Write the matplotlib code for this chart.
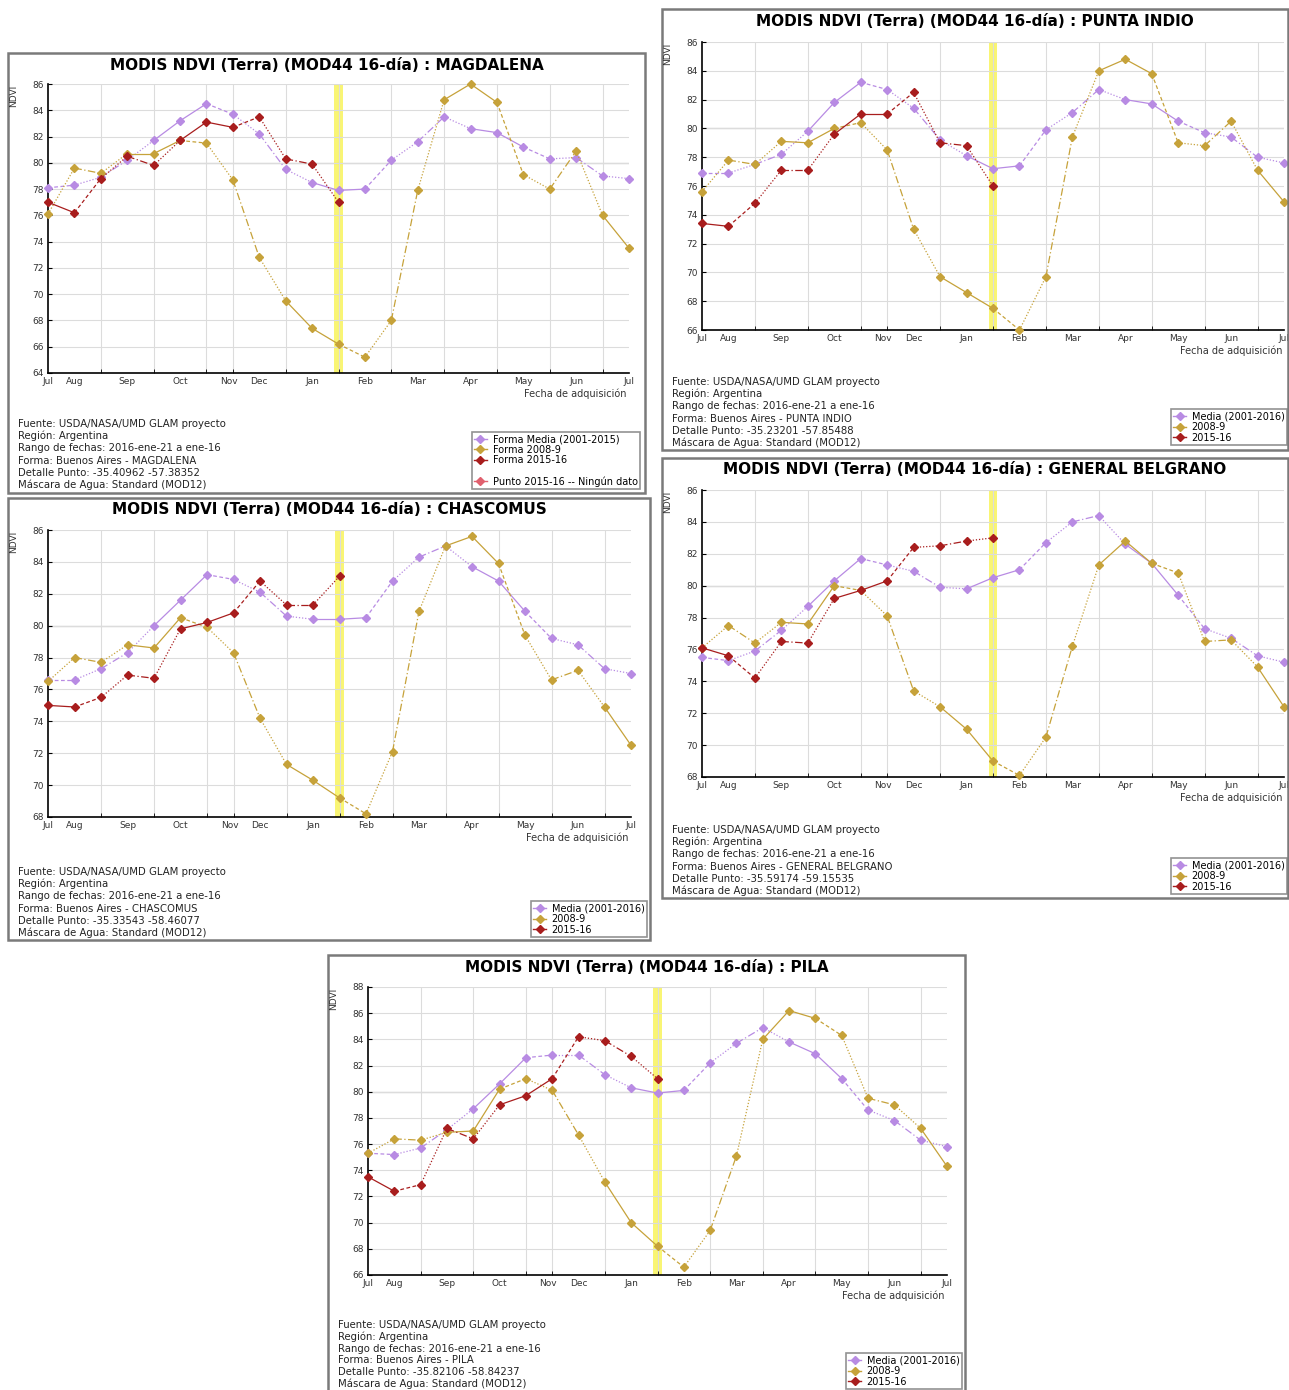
import matplotlib
matplotlib.use("Agg")
import matplotlib.pyplot as plt
from matplotlib.lines import Line2D
from matplotlib.patches import Rectangle

W, H = 1289, 1390

# 16-day composites, Jul -> Jul (23 per season)
months = ["Jul", "Aug", "Sep", "Oct", "Nov", "Dec", "Jan", "Feb", "Mar", "Apr", "May", "Jun", "Jul"]
month_pos = [0, 1, 3, 5, 6.85, 8, 10, 12, 14, 16, 18, 20, 22]
current_idx = 11

magdalena_media = [78.1, 78.3, 78.9, 80.2, 81.7, 83.2, 84.5, 83.7, 82.2, 79.5, 78.5, 77.9,
                   78.0, 80.2, 81.6, 83.5, 82.6, 82.3, 81.2, 80.3, 80.4, 79.0, 78.8]
magdalena_2008 = [76.1, 79.6, 79.2, 80.7, 80.7, 81.7, 81.5, 78.7, 72.8, 69.5, 67.4, 66.2,
                  65.2, 68.0, 77.9, 84.8, 86.0, 84.6, 79.1, 78.0, 80.9, 76.0, 73.5]
magdalena_2015 = [77.0, 76.2, 78.8, 80.5, 79.8, 81.7, 83.1, 82.7, 83.5, 80.3, 79.9, 77.0]

punta_media = [76.9, 76.9, 77.5, 78.2, 79.8, 81.8, 83.2, 82.7, 81.4, 79.2, 78.1, 77.2,
               77.4, 79.9, 81.1, 82.7, 82.0, 81.7, 80.5, 79.7, 79.4, 78.0, 77.6]
punta_2008 = [75.6, 77.8, 77.5, 79.1, 79.0, 80.0, 80.4, 78.5, 73.0, 69.7, 68.6, 67.5,
              66.0, 69.7, 79.4, 84.0, 84.8, 83.8, 79.0, 78.8, 80.5, 77.1, 74.9]
punta_2015 = [73.4, 73.2, 74.8, 77.1, 77.1, 79.6, 81.0, 81.0, 82.5, 79.0, 78.8, 76.0]

chascomus_media = [76.6, 76.6, 77.3, 78.3, 80.0, 81.6, 83.2, 82.9, 82.1, 80.6, 80.4, 80.4,
                   80.5, 82.8, 84.3, 85.0, 83.7, 82.8, 80.9, 79.2, 78.8, 77.3, 77.0]
chascomus_2008 = [76.5, 78.0, 77.7, 78.8, 78.6, 80.5, 79.9, 78.3, 74.2, 71.3, 70.3, 69.2,
                  68.2, 72.1, 80.9, 85.0, 85.6, 83.9, 79.4, 76.6, 77.2, 74.9, 72.5]
chascomus_2015 = [75.0, 74.9, 75.5, 76.9, 76.7, 79.8, 80.2, 80.8, 82.8, 81.3, 81.3, 83.1]

belgrano_media = [75.5, 75.3, 75.9, 77.2, 78.7, 80.3, 81.7, 81.3, 80.9, 79.9, 79.8, 80.5,
                  81.0, 82.7, 84.0, 84.4, 82.6, 81.4, 79.4, 77.3, 76.7, 75.6, 75.2]
belgrano_2008 = [76.1, 77.5, 76.4, 77.7, 77.6, 80.0, 79.7, 78.1, 73.4, 72.4, 71.0, 69.0,
                 68.1, 70.5, 76.2, 81.3, 82.8, 81.4, 80.8, 76.5, 76.6, 74.9, 72.4]
belgrano_2015 = [76.1, 75.6, 74.2, 76.5, 76.4, 79.2, 79.7, 80.3, 82.4, 82.5, 82.8, 83.0]

pila_media = [75.3, 75.2, 75.7, 77.1, 78.7, 80.6, 82.6, 82.8, 82.8, 81.3, 80.3, 79.9,
              80.1, 82.2, 83.7, 84.9, 83.8, 82.9, 81.0, 78.6, 77.8, 76.3, 75.8]
pila_2008 = [75.3, 76.4, 76.3, 76.9, 77.0, 80.2, 81.0, 80.1, 76.7, 73.1, 70.0, 68.2,
             66.6, 69.4, 75.1, 84.0, 86.2, 85.6, 84.3, 79.5, 79.0, 77.2, 74.3]
pila_2015 = [73.5, 72.4, 72.9, 77.2, 76.4, 79.0, 79.7, 81.0, 84.2, 83.9, 82.7, 81.0]

C_MEDIA = "#b88be3"
C_2008 = "#c6a23a"
C_2015 = "#a81d1d"
C_PUNTO = "#e0606e"

dash_cycle = ["-", (0, (3, 2)), (0, (1, 1.5)), (0, (6, 2, 1, 2)), (0, (1, 1.5)), "-"]


def fx(x):
    return x / W


def fy(y):
    return 1 - y / H


def plot_series(ax, vals, color, z, shift):
    xs = list(range(len(vals)))
    for i in range(len(vals) - 1):
        ax.plot(xs[i:i + 2], vals[i:i + 2], color=color, lw=0.9,
                ls=dash_cycle[(i + shift) % len(dash_cycle)], zorder=z)
    ax.plot(xs, vals, ls="none", marker="D", ms=3.8, color=color,
            clip_on=False, zorder=z + 0.5)


def draw_panel(fig, p):
    x0, y0, x1, y1 = p["frame"]
    fig.add_artist(Rectangle((fx(x0), fy(y1)), (x1 - x0) / W, (y1 - y0) / H,
                             transform=fig.transFigure, fill=False,
                             edgecolor="#7a7a7a", lw=1.8))
    fig.text(fx((x0 + x1) / 2), fy(y0 + 12),
             f"MODIS NDVI (Terra) (MOD44 16-día) : {p['name']}",
             ha="center", va="center", fontsize=11, fontweight="bold")

    l, t, r, b = p["axes"]
    ax = fig.add_axes([fx(l), fy(b), (r - l) / W, (b - t) / H])
    ax.axvspan(current_idx - 0.17, current_idx + 0.17, color="#f8f45c",
               alpha=0.85, lw=0, zorder=1)
    lo, hi = p["ylim"]
    ax.set_xlim(0, 22)
    ax.set_ylim(lo, hi)
    ax.set_xticks(range(23), minor=True)
    ax.set_xticks(month_pos)
    ax.set_xticklabels(months)
    ax.set_yticks(range(lo, hi + 1, 2))
    ax.grid(which="minor", axis="x", color="#dcdcdc", lw=0.8, zorder=0)
    ax.grid(which="major", axis="y", color="#dcdcdc", lw=0.8, zorder=0)
    ax.axhline(80, color="#bdbdbd", lw=0.9, zorder=0.5)
    ax.tick_params(axis="x", which="major", length=0, labelsize=6.5, pad=3,
                   labelcolor="#333333")
    ax.tick_params(axis="x", which="minor", direction="in", length=3)
    ax.tick_params(axis="y", direction="in", length=3, labelsize=6.5,
                   labelcolor="#333333", pad=3)
    for s in ["top", "right"]:
        ax.spines[s].set_visible(False)
    for s in ["left", "bottom"]:
        ax.spines[s].set_linewidth(1.2)

    plot_series(ax, p["media"], C_MEDIA, 3, 1)
    plot_series(ax, p["old"], C_2008, 4, 2)
    plot_series(ax, p["new"], C_2015, 5, 0)

    fig.text(fx(l - 34), fy(t + 12), "NDVI", rotation=90, ha="center",
             va="center", fontsize=6.5, color="#333333")
    fig.text(fx(r - 2), fy(b + 21), "Fecha de adquisición", ha="right",
             va="center", fontsize=7, color="#333333")

    info = ["Fuente: USDA/NASA/UMD GLAM proyecto",
            "Región: Argentina",
            "Rango de fechas: 2016-ene-21 a ene-16",
            f"Forma: Buenos Aires - {p['name']}",
            f"Detalle Punto: {p['coords']}",
            "Máscara de Agua: Standard (MOD12)"]
    step = p.get("text_step", 12.2)
    for k, line in enumerate(info):
        fig.text(fx(x0 + 10), fy(p["text_top"] + k * step), line, ha="left",
                 va="center", fontsize=7.3, color="#222222")

    handles = [Line2D([], [], color=C_MEDIA, marker="D", ms=4, lw=1),
               Line2D([], [], color=C_2008, marker="D", ms=4, lw=1),
               Line2D([], [], color=C_2015, marker="D", ms=4, lw=1)]
    labels = list(p["labels"])
    if p.get("punto"):
        handles += [Line2D([], [], color="none"),
                    Line2D([], [], color=C_PUNTO, marker="D", ms=4, lw=1)]
        labels += [" ", "Punto 2015-16 -- Ningún dato"]
    lr, lb = p["legend_br"]
    leg = fig.legend(handles, labels, loc="lower right",
                     bbox_to_anchor=(fx(lr), fy(lb)), fontsize=7,
                     frameon=True, fancybox=False, edgecolor="#777777",
                     borderpad=0.25, labelspacing=0.05, handlelength=1.3,
                     handletextpad=0.6, borderaxespad=0)
    leg.get_frame().set_linewidth(1.2)


panels = [
    dict(name="MAGDALENA", frame=(8, 53, 645, 493), axes=(48, 84, 629, 373),
         ylim=(64, 86), media=magdalena_media, old=magdalena_2008,
         new=magdalena_2015, coords="-35.40962 -57.38352", text_top=424,
         labels=["Forma Media (2001-2015)", "Forma 2008-9", "Forma 2015-16"],
         punto=True, legend_br=(640, 489)),
    dict(name="PUNTA INDIO", frame=(662, 9, 1288, 450), axes=(702, 42, 1284, 330),
         ylim=(66, 86), media=punta_media, old=punta_2008, new=punta_2015,
         coords="-35.23201 -57.85488", text_top=382,
         labels=["Media (2001-2016)", "2008-9", "2015-16"], legend_br=(1287, 445)),
    dict(name="CHASCOMUS", frame=(8, 498, 650, 940), axes=(48, 530, 631, 817),
         ylim=(68, 86), media=chascomus_media, old=chascomus_2008,
         new=chascomus_2015, coords="-35.33543 -58.46077", text_top=872,
         labels=["Media (2001-2016)", "2008-9", "2015-16"], legend_br=(647, 937)),
    dict(name="GENERAL BELGRANO", frame=(662, 458, 1288, 898),
         axes=(702, 490, 1284, 777), ylim=(68, 86), media=belgrano_media,
         old=belgrano_2008, new=belgrano_2015, coords="-35.59174 -59.15535",
         text_top=830, labels=["Media (2001-2016)", "2008-9", "2015-16"],
         legend_br=(1287, 894)),
    dict(name="PILA", frame=(328, 955, 965, 1396), axes=(368, 987, 947, 1275),
         ylim=(66, 88), media=pila_media, old=pila_2008, new=pila_2015,
         coords="-35.82106 -58.84237", text_top=1325, text_step=11.8,
         labels=["Media (2001-2016)", "2008-9", "2015-16"], legend_br=(962, 1389)),
]

fig = plt.figure(figsize=(W / 100, H / 100), dpi=100)
fig.patch.set_facecolor("white")
for p in panels:
    draw_panel(fig, p)

fig.savefig("out.png", dpi=100)
